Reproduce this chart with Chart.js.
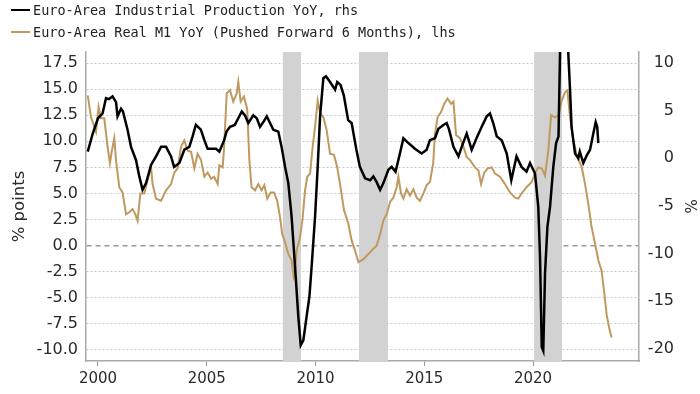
<!DOCTYPE html>
<html>
<head>
<meta charset="utf-8">
<script src="https://cdn.jsdelivr.net/npm/chart.js@4.4.1/dist/chart.umd.min.js"></script>
<style>
  html, body { margin: 0; padding: 0; background: #fff; }
  #wrap { position: relative; width: 700px; height: 394px; overflow: hidden; }
  canvas { position: absolute; left: 0; top: 0; }
  .row { position: absolute; left: 11px; height: 20px; display: flex; align-items: center;
         font-family: 'DejaVu Sans Mono', 'Liberation Mono', monospace; font-size: 13.5px; color: #222; white-space: nowrap; }
  .mk { width: 19px; height: 2.5px; margin-right: 3px; }
</style>
</head>
<body>
<div id="wrap">
  <canvas id="c" width="700" height="394"></canvas>
  <div class="row" style="top:0px"><span class="mk" style="background:#000"></span><span id="l1"></span></div>
  <div class="row" style="top:22px"><span class="mk" style="background:#BF995F"></span><span id="l2"></span></div>
</div>
<script>
// ---- Data ----
const seriesNames = ["Euro-Area Industrial Production YoY, rhs", "Euro-Area Real M1 YoY (Pushed Forward 6 Months), lhs"];

const ipDates = [1999.53,1999.76,2000.0,2000.21,2000.37,2000.5,2000.67,2000.83,2000.9,2001.06,2001.15,2001.36,2001.52,2001.75,2001.9,2002.05,2002.21,2002.44,2002.67,2002.9,2003.13,2003.36,2003.5,2003.74,2003.97,2004.2,2004.35,2004.5,2004.73,2004.89,2005.04,2005.43,2005.58,2005.8,2005.91,2006.07,2006.29,2006.45,2006.61,2006.76,2006.91,2007.14,2007.3,2007.45,2007.6,2007.76,2007.91,2008.06,2008.29,2008.44,2008.6,2008.75,2008.9,2009.06,2009.21,2009.32,2009.44,2009.59,2009.72,2009.82,2009.98,2010.1,2010.21,2010.36,2010.48,2010.67,2010.9,2011.0,2011.15,2011.3,2011.5,2011.66,2011.88,2012.04,2012.28,2012.51,2012.66,2012.81,2012.97,2013.12,2013.35,2013.5,2013.68,2013.88,2014.04,2014.27,2014.57,2014.88,2015.11,2015.26,2015.49,2015.65,2015.88,2016.03,2016.14,2016.34,2016.57,2016.72,2016.95,2017.18,2017.4,2017.64,2017.87,2018.02,2018.17,2018.33,2018.56,2018.79,2019.0,2019.24,2019.47,2019.7,2019.86,2020.09,2020.24,2020.32,2020.4,2020.47,2020.55,2020.66,2020.78,2020.93,2021.06,2021.17,2021.24,2021.33,2021.42,2021.52,2021.62,2021.7,2021.77,2021.93,2022.08,2022.15,2022.31,2022.47,2022.62,2022.77,2022.88,2022.95,2023.0];
const ipValues = [0.7,2.6,4.2,4.7,6.3,6.2,6.5,5.9,4.4,5.2,4.9,3.0,1.2,-0.2,-1.9,-3.3,-2.6,-0.7,0.2,1.2,1.2,0.2,-0.9,-0.5,0.9,1.2,2.3,3.5,3.0,1.9,1.0,1.0,0.7,1.9,2.8,3.3,3.5,4.2,4.9,4.5,3.7,4.5,4.2,3.3,3.8,4.4,3.7,3.0,2.8,1.2,-0.9,-2.6,-6.1,-11.4,-16.6,-19.6,-19.1,-16.6,-14.5,-11.4,-6.1,-0.9,4.4,8.4,8.6,8.0,7.2,8.0,7.7,6.6,4.0,3.7,0.9,-0.9,-2.1,-2.3,-1.9,-2.5,-3.3,-2.6,-1.2,-0.9,-1.4,0.5,2.1,1.6,1.0,0.5,0.9,1.9,2.1,3.1,3.5,3.7,3.0,1.2,0.2,1.2,2.6,0.9,2.1,3.3,4.4,4.7,3.7,2.3,1.9,0.5,-2.3,0.2,-0.9,-1.4,-0.5,-1.6,-5.1,-10.3,-19.8,-20.2,-12.1,-7.2,-5.1,-0.9,1.6,2.3,11,30,38,25,11,7.2,3.3,0.5,0.0,0.7,-0.5,0.3,0.9,2.6,3.8,3.3,1.6];

const m1Dates = [1999.53,1999.68,1999.83,1999.91,2000.03,2000.14,2000.29,2000.44,2000.55,2000.64,2000.75,2000.83,2000.98,2001.13,2001.29,2001.44,2001.59,2001.72,2001.82,2001.95,2002.13,2002.28,2002.44,2002.51,2002.67,2002.9,2003.13,2003.36,2003.51,2003.66,2003.82,2003.97,2004.12,2004.28,2004.43,2004.58,2004.74,2004.89,2005.04,2005.2,2005.34,2005.5,2005.58,2005.73,2005.79,2005.92,2006.07,2006.22,2006.38,2006.45,2006.56,2006.71,2006.86,2006.96,2007.06,2007.22,2007.37,2007.52,2007.65,2007.78,2007.94,2008.09,2008.24,2008.37,2008.47,2008.6,2008.75,2008.9,2009.0,2009.06,2009.13,2009.29,2009.41,2009.52,2009.62,2009.75,2009.87,2009.98,2010.1,2010.21,2010.36,2010.51,2010.67,2010.85,2011.0,2011.15,2011.31,2011.51,2011.66,2011.82,2011.97,2012.2,2012.43,2012.66,2012.81,2012.97,2013.12,2013.27,2013.43,2013.58,2013.73,2013.81,2013.93,2014.04,2014.19,2014.34,2014.5,2014.65,2014.8,2014.96,2015.11,2015.26,2015.41,2015.49,2015.61,2015.77,2015.92,2016.07,2016.23,2016.34,2016.46,2016.64,2016.8,2016.95,2017.1,2017.33,2017.49,2017.61,2017.76,2017.91,2018.1,2018.25,2018.48,2018.71,2018.94,2019.17,2019.32,2019.47,2019.7,2019.94,2020.09,2020.24,2020.4,2020.55,2020.7,2020.83,2021.01,2021.17,2021.32,2021.47,2021.58,2021.7,2021.85,2022.03,2022.24,2022.39,2022.54,2022.69,2022.85,2023.0,2023.15,2023.26,2023.38,2023.5,2023.61];
const m1Values = [14.4,12.3,11.4,10.9,13.3,12.2,12.2,9.5,7.9,9.1,10.3,8.2,5.6,5.1,3.0,3.2,3.5,3.0,2.4,5.0,5.0,6.3,7.5,5.9,4.5,4.3,5.3,5.9,7.0,7.4,9.5,10.1,9.1,9.0,7.4,8.8,8.2,6.6,7.0,6.4,6.6,5.9,7.7,7.5,9.1,14.6,14.9,13.8,14.6,15.7,13.8,14.3,13.1,8.2,5.6,5.3,5.9,5.3,5.8,4.5,5.1,5.1,4.3,2.7,1.1,0.3,-0.8,-1.4,-3.0,-2.6,-0.5,0.8,2.7,5.3,6.6,6.9,9.5,11.4,13.9,12.7,12.3,11.1,8.8,8.7,7.5,5.6,3.4,2.1,0.5,-0.5,-1.6,-1.3,-0.8,-0.3,0.0,1.1,2.4,3.0,4.2,4.6,5.6,6.6,5.0,4.5,5.4,4.8,5.4,4.6,4.3,5.0,5.8,6.1,7.9,10.7,12.3,12.8,13.6,14.1,13.6,13.8,10.6,10.3,9.5,8.5,8.2,7.5,7.2,5.9,7.0,7.4,7.5,6.9,6.6,5.9,5.1,4.6,4.5,5.0,5.6,6.1,7.0,7.5,7.4,6.7,9.1,12.5,12.3,12.5,13.9,14.7,14.9,12.3,10.1,8.5,7.5,5.9,4.0,1.8,0.2,-1.4,-2.4,-4.3,-6.6,-7.9,-8.8];

const recessionStart = [2008.5, 2012.0, 2020.05];
const recessionEnd   = [2009.33, 2013.33, 2021.33];

const xTicks = [2000, 2005, 2010, 2015, 2020];
const leftTicks = [-10, -7.5, -5, -2.5, 0, 2.5, 5, 7.5, 10, 12.5, 15, 17.5];
const rightTicks = [-20, -15, -10, -5, 0, 5, 10];

document.getElementById('l1').textContent = seriesNames[0];
document.getElementById('l2').textContent = seriesNames[1];

const toPts = (xs, ys) => xs.map((x, i) => ({x: x, y: ys[i]}));

const bandsPlugin = {
  id: 'bands',
  beforeDatasetsDraw(chart) {
    const {ctx, chartArea, scales} = chart;
    const x = scales.x;
    ctx.save();
    ctx.fillStyle = '#d2d2d2';
    for (let i = 0; i < recessionStart.length; i++) {
      const x0 = x.getPixelForValue(recessionStart[i]);
      const x1 = x.getPixelForValue(recessionEnd[i]);
      ctx.fillRect(x0, chartArea.top, x1 - x0, chartArea.bottom - chartArea.top);
    }
    ctx.restore();
  }
};

const tickFont = {family: "'DejaVu Sans', sans-serif", size: 16};

new Chart(document.getElementById('c'), {
  type: 'line',
  data: {
    datasets: [
      { label: seriesNames[0], data: toPts(ipDates, ipValues), yAxisID: 'y1',
        borderColor: '#000', borderWidth: 2.5, pointRadius: 0, tension: 0, fill: false },
      { label: seriesNames[1], data: toPts(m1Dates, m1Values), yAxisID: 'y',
        borderColor: '#BF995F', borderWidth: 2, pointRadius: 0, tension: 0, fill: false }
    ]
  },
  options: {
    responsive: false,
    animation: false,
    devicePixelRatio: 1,
    layout: { padding: { top: 52, right: 26, left: 0, bottom: 0 } },
    plugins: { legend: { display: false }, tooltip: { enabled: false } },
    scales: {
      x: {
        type: 'linear', min: 1999.45, max: 2024.87,
        afterBuildTicks: s => { s.ticks = xTicks.map(v => ({value: v})); },
        afterFit: s => { s.height = 33; },
        ticks: { font: {family: "'DejaVu Sans', sans-serif", size: 15}, color: '#2a2a2a', padding: 4,
                 maxRotation: 0, autoSkip: false, callback: v => String(v) },
        grid: { display: true, drawOnChartArea: false, drawTicks: true, tickLength: 5, color: '#999', lineWidth: 1 },
        border: { display: true, color: '#aaa', width: 1.5 }
      },
      y: {
        position: 'left', min: -11.06, max: 18.56,
        afterBuildTicks: s => { s.ticks = leftTicks.map(v => ({value: v})); },
        afterFit: s => { s.width = 86; },
        ticks: { font: tickFont, color: '#2a2a2a', padding: 8, callback: v => Number(v).toFixed(1) },
        grid: {
          drawTicks: false,
          color: c => (c.tick && c.tick.value === 0) ? '#9a9a9a' : '#c8c8c8',
          lineWidth: c => (c.tick && c.tick.value === 0) ? 1.5 : 1
        },
        border: { display: true, color: '#aaa', width: 1.5,
                  dash: c => (c.tick && c.tick.value === 0) ? [5, 4] : [2, 2] },
        title: { display: true, text: '% points', color: '#2a2a2a',
                 font: {family: "'DejaVu Sans', sans-serif", size: 16.5}, padding: {top: 10, bottom: 0} }
      },
      y1: {
        position: 'right', min: -21.26, max: 11.15,
        afterBuildTicks: s => { s.ticks = rightTicks.map(v => ({value: v})); },
        afterFit: s => { s.width = 35; },
        ticks: { font: tickFont, color: '#2a2a2a', padding: 8, crossAlign: 'far', callback: v => String(v) },
        grid: { display: false, drawOnChartArea: false },
        border: { display: true, color: '#aaa', width: 1.5 },
        title: { display: true, text: '%', color: '#2a2a2a',
                 font: {family: "'DejaVu Sans', sans-serif", size: 15}, padding: {top: -24, bottom: 0} }
      }
    }
  },
  plugins: [bandsPlugin]
});
</script>
</body>
</html>
